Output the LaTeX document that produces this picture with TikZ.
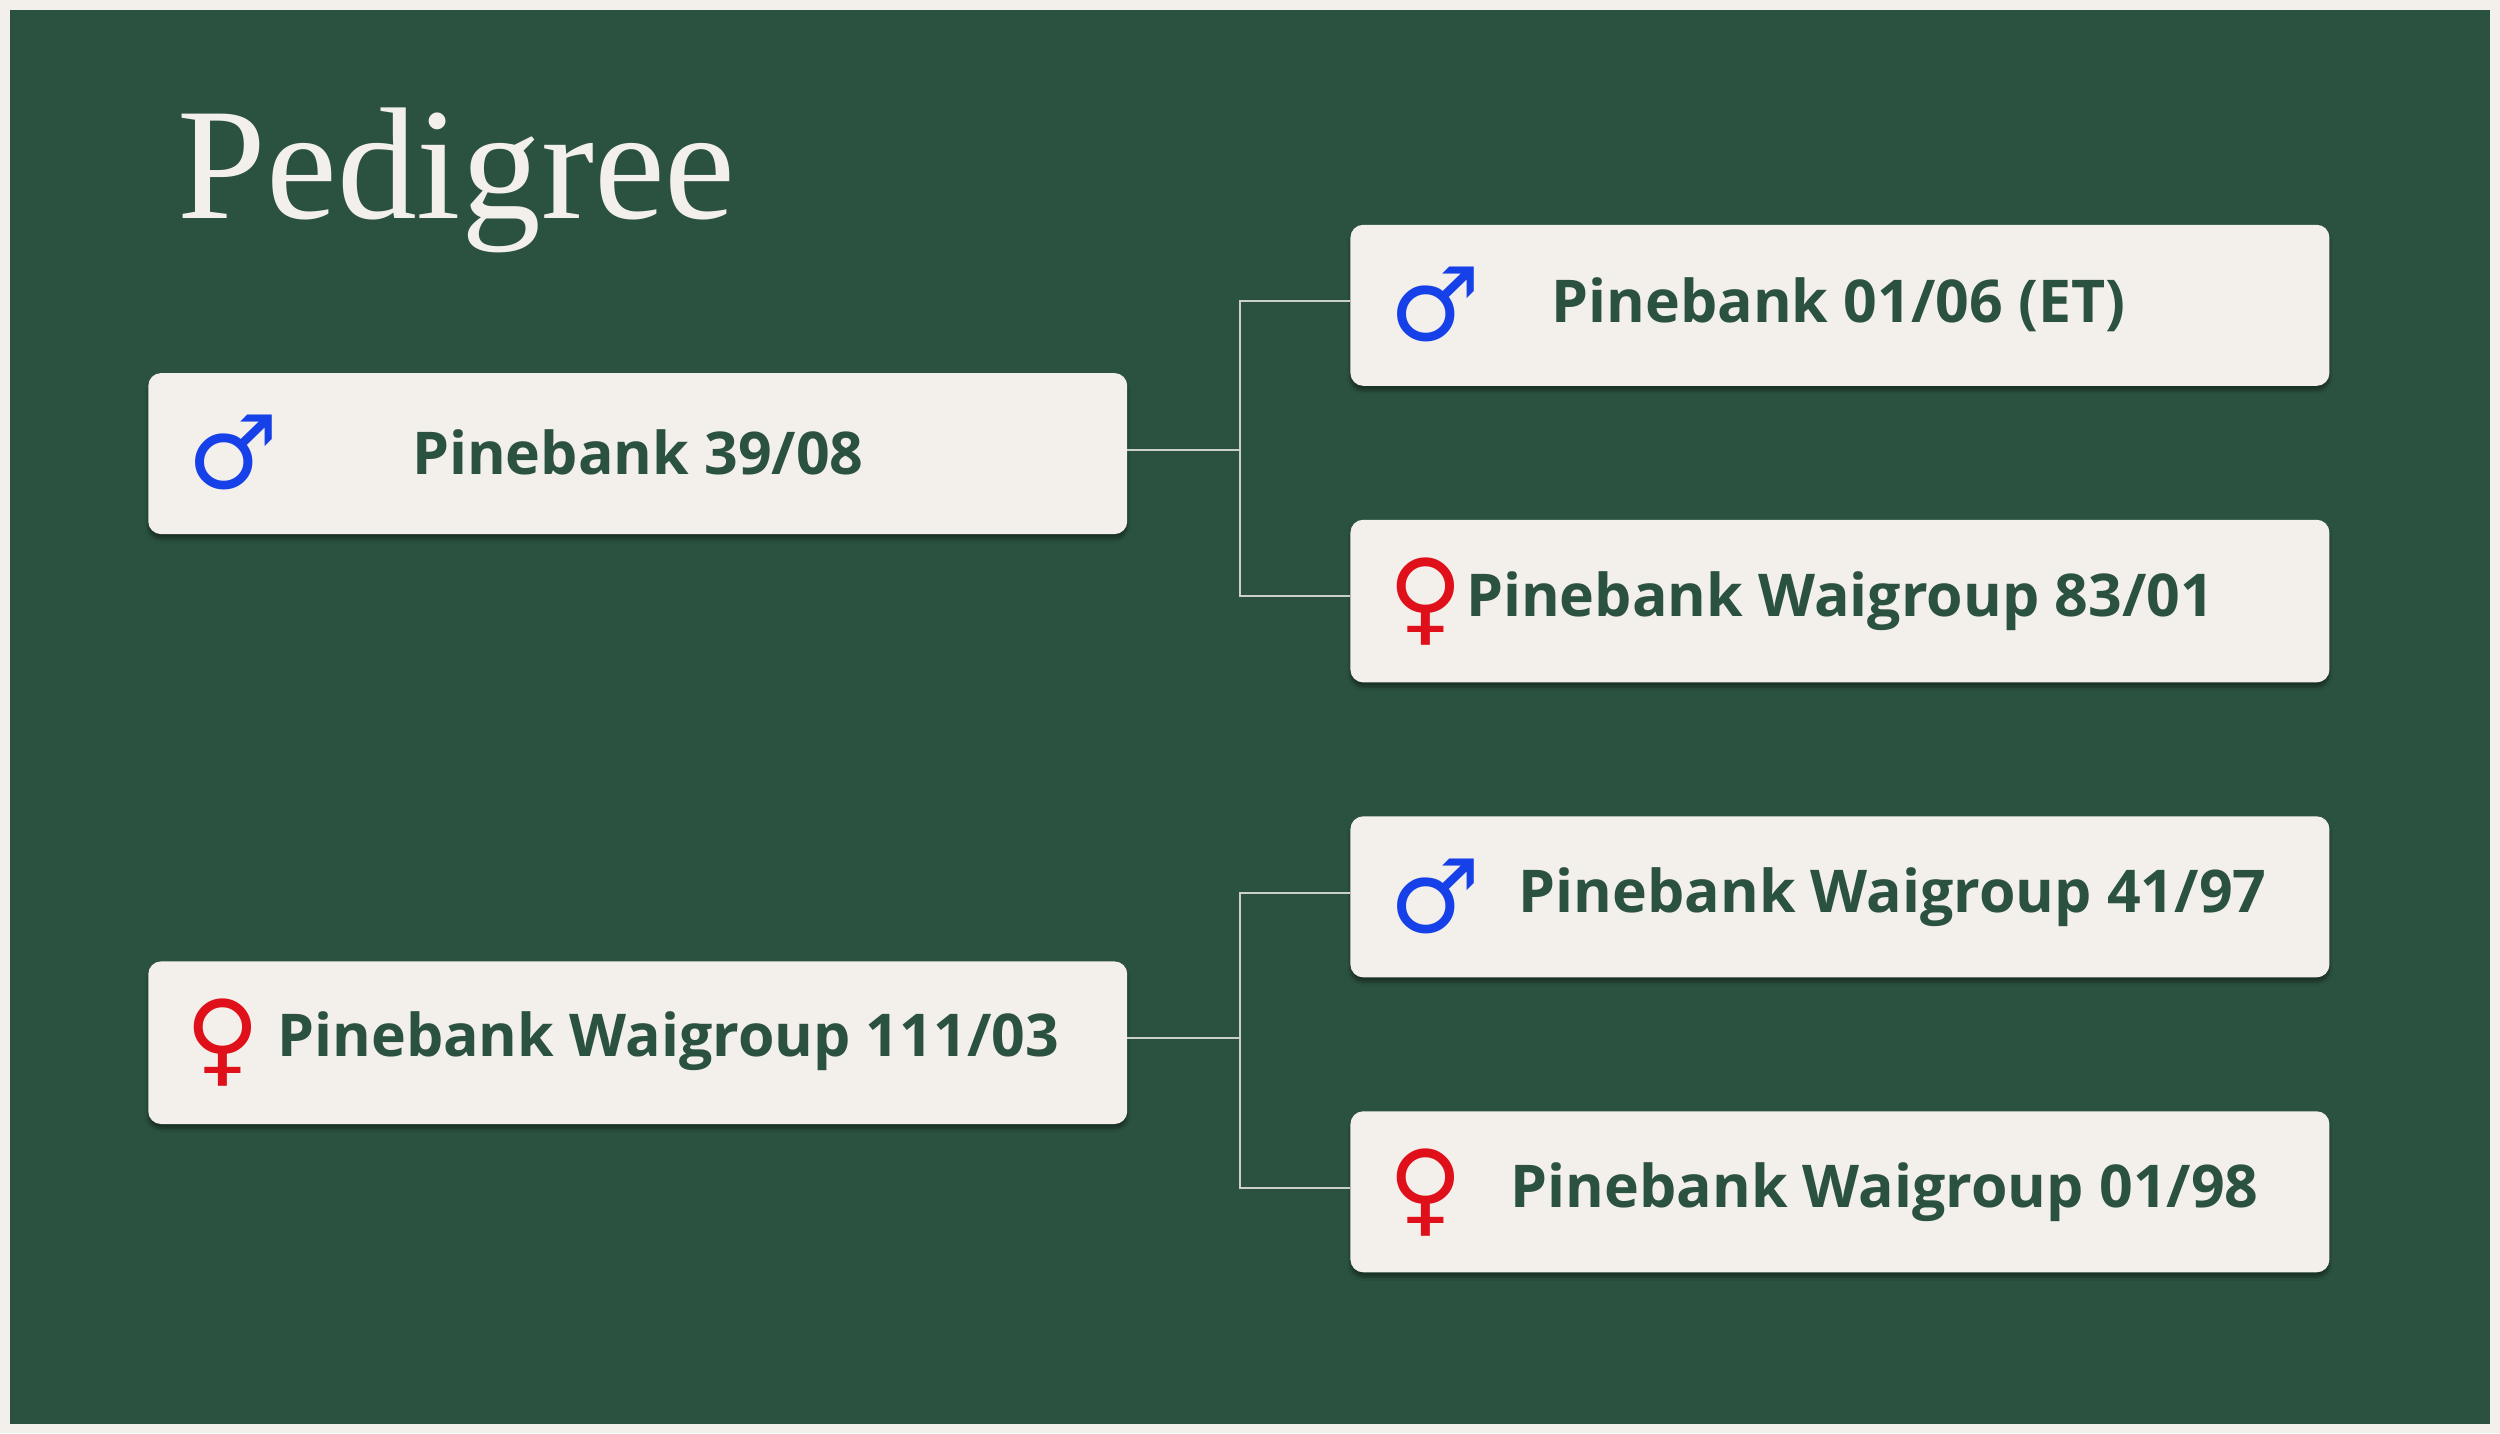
\documentclass[tikz,border=0pt]{standalone}
\usepackage{fontspec}
\setmainfont{Open Sans}
\newfontfamily\symf{DejaVu Sans}
\newfontfamily\titlef{Liberation Serif}
\usetikzlibrary{shadows.blur}
\definecolor{bg}{HTML}{2B5240}
\definecolor{cream}{HTML}{F3F0EB}
\definecolor{txt}{HTML}{2B5240}
\definecolor{mblue}{HTML}{1640E8}
\definecolor{fred}{HTML}{E0101A}
\begin{document}
\begin{tikzpicture}[x=1pt,y=-1pt,
  card/.style={fill=cream,rounded corners=8pt,blur shadow={shadow blur steps=6,shadow xshift=0pt,shadow yshift=-3pt,shadow opacity=40}},
  lbl/.style={text=txt,font=\fontsize{37}{40}\selectfont\bfseries},
  msym/.style={text=mblue,font=\symf\fontsize{64}{64}\selectfont},
  fsym/.style={text=fred,font=\symf\fontsize{64}{64}\selectfont},
  link/.style={draw=cream!80!bg,line width=1.3pt}]
\fill[cream] (0,0) rectangle (1568,899);
\fill[bg] (6,6) rectangle (1562,893);
\node[anchor=base west,text=cream,font=\titlef\fontsize{100}{100}\selectfont] (title) at (108,137) {Pedigree};
% cards
\path[card] (93,234) rectangle (707,335);
\path[card] (93,603) rectangle (707,705);
\path[card] (847,141) rectangle (1461,242);
\path[card] (847,326) rectangle (1461,428);
\path[card] (847,512) rectangle (1461,613);
\path[card] (847,697) rectangle (1461,798);
\coordinate (a) at (707,282);
\coordinate (b) at (707,651);
\coordinate (c) at (847,189);
\coordinate (d) at (847,374);
\coordinate (e) at (847,560);
\coordinate (f) at (847,745);
\draw[link] (a) -- (778,282) |- (c);
\draw[link] (778,282) |- (d);
\draw[link] (b) -- (778,651) |- (e);
\draw[link] (778,651) |- (f);
% labels
\node[lbl] (t1) at (400,284) {Pinebank 39/08};
\node[lbl] (t2) at (419,653) {Pinebank Waigroup 111/03};
\node[lbl] (t3) at (1153,191) {Pinebank 01/06 (ET)};
\node[lbl] (t4) at (1154,377) {Pinebank Waigroup 83/01};
\node[lbl] (t5) at (1187,563) {Pinebank Waigroup 41/97};
\node[lbl] (t6) at (1182,748) {Pinebank Waigroup 01/98};
\node[msym] (s1) at (146,284) {♂};
\node[fsym] (s2) at (140,654) {♀};
\node[msym] (s3) at (900,191) {♂};
\node[fsym] (s4) at (894,377) {♀};
\node[msym] (s5) at (900,562) {♂};
\node[fsym] (s6) at (894,748) {♀};
\end{tikzpicture}
\end{document}
